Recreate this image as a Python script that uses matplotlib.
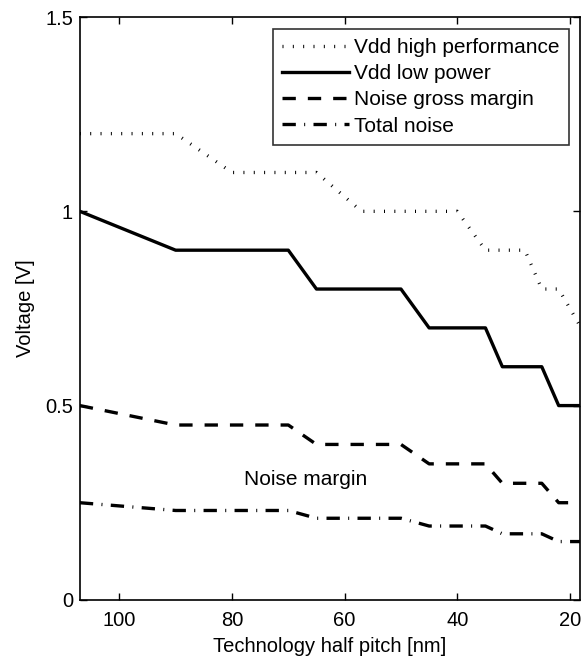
import matplotlib
matplotlib.use("Agg")
import matplotlib.pyplot as plt

plt.rcParams['font.family'] = ['Liberation Sans', 'DejaVu Sans']

# ITRS style nodes (half pitch, nm) and voltages
hp_x = [107, 90, 80, 65, 57, 40, 35, 28, 25, 22, 18]
vdd_hp = [1.2, 1.2, 1.1, 1.1, 1.0, 1.0, 0.9, 0.9, 0.8, 0.8, 0.7]

node_x = [107, 90, 70, 65, 50, 45, 35, 32, 25, 22, 18]
vdd_lp = [1.0, 0.9, 0.9, 0.8, 0.8, 0.7, 0.7, 0.6, 0.6, 0.5, 0.5]
noise_gross = [0.5, 0.45, 0.45, 0.4, 0.4, 0.35, 0.35, 0.3, 0.3, 0.25, 0.25]
total_noise = [0.25, 0.23, 0.23, 0.21, 0.21, 0.19, 0.19, 0.17, 0.17, 0.15, 0.15]

xticks = [100, 80, 60, 40, 20]
yticks = [0, 0.5, 1, 1.5]
ytick_labels = ['0', '0.5', '1', '1.5']

fig = plt.figure(figsize=(5.83, 6.57), dpi=100)
ax = fig.add_axes([0.137, 0.087, 0.858, 0.887])

lw = 2.4
ax.plot(hp_x, vdd_hp, color='black', lw=lw, linestyle=(0, (0.3, 2.8)),
        label='Vdd high performance')
ax.plot(node_x, vdd_lp, color='black', lw=lw, linestyle='-',
        label='Vdd low power')
ax.plot(node_x, noise_gross, color='black', lw=lw, linestyle=(0, (4.0, 3.6)),
        label='Noise gross margin')
ax.plot(node_x, total_noise, color='black', lw=lw,
        linestyle=(0, (4.0, 2.5, 0.3, 2.5)), label='Total noise')

ax.text(67, 0.31, 'Noise margin', ha='center', va='center', fontsize=15)

ax.set_xlim(107, 18.2)
ax.set_ylim(0, 1.5)
ax.set_xticks(xticks)
ax.set_yticks(yticks)
ax.set_yticklabels(ytick_labels)
ax.tick_params(direction='in', top=True, right=True, length=5, width=1,
               labelsize=14.5)
ax.tick_params(axis='x', pad=8)
ax.tick_params(axis='y', pad=5)
for s in ax.spines.values():
    s.set_linewidth(1.2)

ax.set_xlabel('Technology half pitch [nm]', fontsize=14.5, labelpad=5)
ax.set_ylabel('Voltage [V]', fontsize=14.5, labelpad=7)

leg = ax.legend(loc='upper right', fontsize=15, frameon=True, fancybox=False,
                handlelength=3.2, handletextpad=0.25, borderpad=0.45,
                labelspacing=0.35, borderaxespad=0.55)
leg.get_frame().set_edgecolor('black')
leg.get_frame().set_linewidth(1.2)

fig.savefig('out.png', dpi=100)
